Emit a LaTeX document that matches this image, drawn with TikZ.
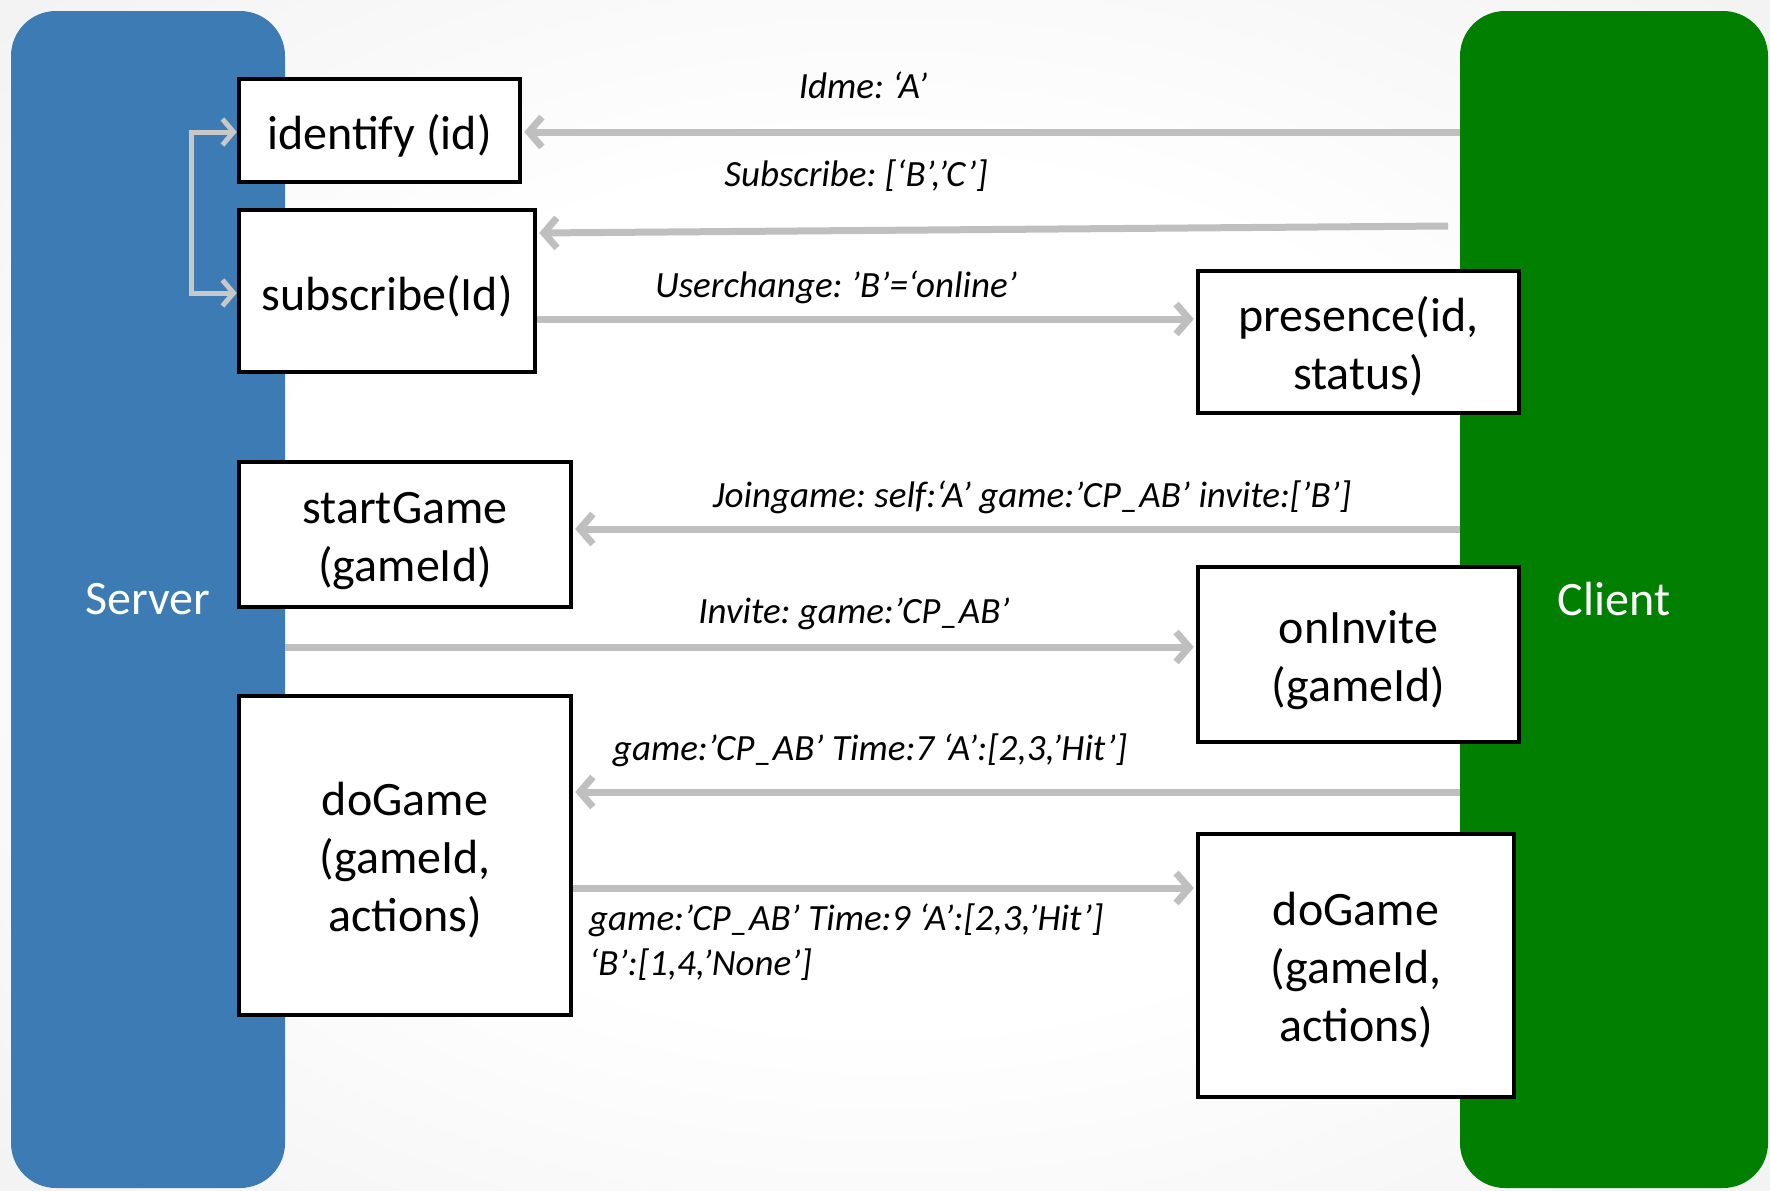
\documentclass[tikz,border=0pt]{standalone}
\usepackage{fontspec}
\setmainfont{Carlito}
\usetikzlibrary{arrows.meta,calc}
\definecolor{srvblue}{RGB}{60,123,180}
\definecolor{cligreen}{RGB}{0,127,0}
\definecolor{arrgray}{RGB}{191,191,191}
\definecolor{loopgray}{RGB}{200,200,200}
\pgfdeclareradialshading{bgshade}{\pgfpoint{0bp}{0bp}}{color(0bp)=(white); color(18bp)=(white); color(50bp)=(black!9); color(80bp)=(black!12)}
\frenchspacing
\begin{document}
\begin{tikzpicture}[x=1pt,y=-1pt,
  column/.style={rounded corners=45pt, inner sep=0pt, text=white, font=\fontsize{48}{58}\selectfont},
  fbox/.style={draw=black, fill=white, line width=4.5pt, inner sep=0pt, align=center,
    font=\fontsize{48}{58}\selectfont},
  onebox/.style={fbox, execute at begin node={\rule{0pt}{45pt}}},
  boxtext/.style={inner sep=0pt, align=center, font=\fontsize{48}{58}\selectfont},
  lbl/.style={font=\fontsize{37}{45}\selectfont\itshape, inner sep=0pt},
  msg/.style={draw=arrgray, line width=7pt, shorten >=2pt, -{Straight Barb[length=13pt,width=30pt]}},
  loopline/.style={draw=loopgray, line width=5pt, {Straight Barb[length=11pt,width=26pt]}-{Straight Barb[length=11pt,width=26pt]}}
]
\useasboundingbox (0,0) rectangle (1770,1191);
\shade[shading=bgshade] (0,0) rectangle (1770,1191);

% columns
\node[column, fill=srvblue, minimum width=274pt, minimum height=1177pt] (server) at (148,599.5) {Server};
\node[column, fill=cligreen, minimum width=308pt, minimum height=1177pt] (client) at (1614,599.5) {Client};

% boxes
\node[onebox, minimum width=281pt, minimum height=103pt] (identify) at (379.5,130.5) {identify (id)};
\node[onebox, minimum width=296pt, minimum height=162pt] (subscribe) at (387,291) {subscribe(Id)};
\node[fbox, minimum width=321pt, minimum height=142pt] (presence) at (1358.5,342) {};
\node[fbox, minimum width=332pt, minimum height=145pt] (startGame) at (405,534.5) {};
\node[fbox, minimum width=321pt, minimum height=175pt] (onInvite) at (1358.5,654.5) {};
\node[fbox, minimum width=332pt, minimum height=319pt] (doGameL) at (405,855.5) {};
\node[fbox, minimum width=316pt, minimum height=263pt] (doGameR) at (1356,965.5) {};

% box texts
\node[boxtext] (presenceT) at ([yshift=-4pt]presence.center) {presence(id,\\status)};
\node[boxtext] (startGameT) at ([yshift=-7pt]startGame.center) {startGame\\(gameId)};
\node[boxtext] (onInviteT) at ([yshift=-6pt]onInvite.center) {onInvite\\(gameId)};
\node[boxtext] (doGameLT) at ([yshift=-5pt]doGameL.center) {doGame\\(gameId,\\actions)};
\node[boxtext] (doGameRT) at ([yshift=-5pt]doGameR.center) {doGame\\(gameId,\\actions)};

% connectors
\coordinate (subsrc) at (1448,226);
\draw[msg] (client.west |- 0,132) -- (identify.east |- 0,132);
\draw[msg] (subsrc) -- (subscribe.east |- 0,233);
\draw[msg] (subscribe.east |- 0,319) -- (presence.west |- 0,319);
\draw[msg] (client.west |- 0,529) -- (startGame.east |- 0,529);
\draw[msg] (server.east |- 0,647) -- (onInvite.west |- 0,647);
\draw[msg] (client.west |- 0,792) -- (doGameL.east |- 0,792);
\draw[msg] (doGameL.east |- 0,888) -- (doGameR.west |- 0,888);
\draw[loopline] (identify.west |- 0,132) -- ++(-45,0) |- (subscribe.west |- 0,293);

% labels
\node[lbl] (l1) at (863,85) {Idme: ‘A’};
\node[lbl] (l2) at (856,176) {Subscribe: [‘B’,’C’]};
\node[lbl] (l3) at (836,287) {Userchange: ’B’=‘online’};
\node[lbl] (l4) at (1032,497) {Joingame: self:‘A’ game:’CP\_AB’ invite:[’B’]};
\node[lbl] (l5) at (854,614) {Invite: game:’CP\_AB’};
\node[lbl] (l6) at (870,750) {game:’CP\_AB’ Time:7 ‘A’:[2,3,’Hit’]};
\node[lbl, anchor=west, align=left] (l7) at (589,942) {game:’CP\_AB’ Time:9 ‘A’:[2,3,’Hit’]\\‘B’:[1,4,’None’]};
\end{tikzpicture}
\end{document}
